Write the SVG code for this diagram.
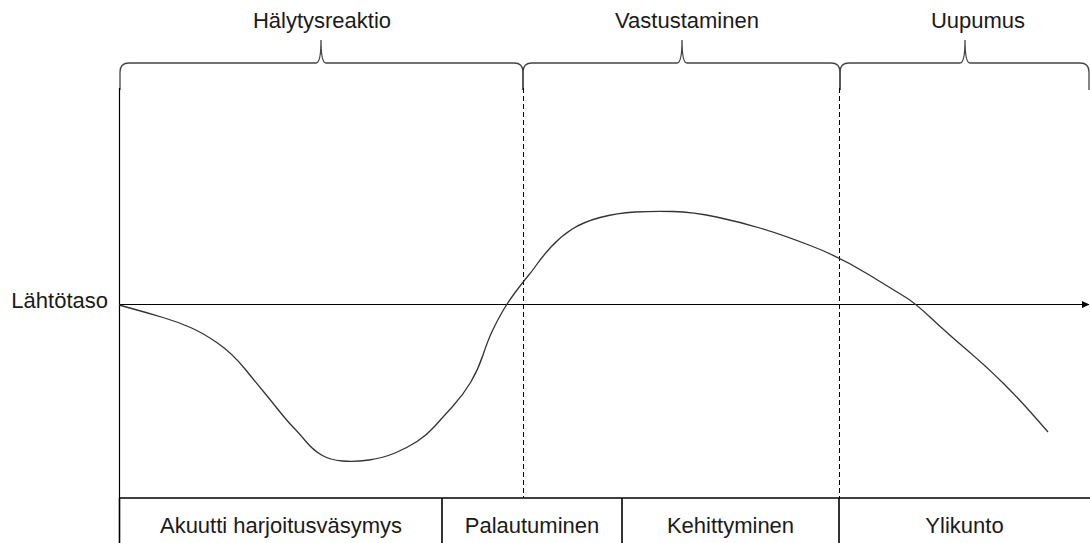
<svg xmlns="http://www.w3.org/2000/svg" width="1090" height="543" viewBox="0 0 1090 543">
<style>
text{font-family:"Liberation Sans",Arial,sans-serif;font-size:22px;fill:#1a1a1a}
.brace{fill:none;stroke:#444;stroke-width:1.3}
.axis{fill:none;stroke:#000;stroke-width:1.2}
.dash{fill:none;stroke:#000;stroke-width:1;stroke-dasharray:5,3}
.curve{fill:none;stroke:#333;stroke-width:1.3;stroke-linejoin:round}
.cell{fill:none;stroke:#000;stroke-width:1.6}
</style>
<defs>
<marker id="arr" markerWidth="8" markerHeight="8" refX="7" refY="4" orient="auto" markerUnits="userSpaceOnUse">
<path d="M0,0.5 L7.5,4 L0,7.5 Z" fill="#000"/>
</marker>
</defs>
<rect width="1090" height="543" fill="#fff"/>
<g id="phases">
<g id="halytysreaktio">
<path class="brace" d="M120,90 L120,72 Q120,63 129,63 L316,63 Q321,63 321,40 Q321,63 326,63 L514,63 Q523,63 523,72 L523,90"/>
<text x="322" y="27.5" text-anchor="middle">Hälytysreaktio</text>
</g>
<g id="vastustaminen">
<path class="brace" d="M523,90 L523,72 Q523,63 532,63 L677,63 Q682,63 682,40 Q682,63 687,63 L831,63 Q840,63 840,72 L840,90"/>
<text x="687" y="27.5" text-anchor="middle">Vastustaminen</text>
</g>
<g id="uupumus">
<path class="brace" d="M840,90 L840,72 Q840,63 849,63 L960,63 Q965,63 965,40 Q965,63 970,63 L1080,63 Q1089,63 1089,72 L1089,90"/>
<text x="978" y="27.5" text-anchor="middle">Uupumus</text>
</g>
</g>
<g id="connectors">
<line class="axis" x1="119.5" y1="88" x2="119.5" y2="498"/>
<line class="axis" x1="119.5" y1="304.5" x2="1089" y2="304.5" marker-end="url(#arr)"/>
<line class="dash" x1="523.5" y1="88" x2="523.5" y2="498"/>
<line class="dash" x1="839.5" y1="88" x2="839.5" y2="498"/>
<path class="curve" d="M119,305 L133.5,309 Q148,313 163,317.5 Q178,322 190.5,327.5 Q203,333 217.5,343 Q232,353 245,369 Q258,385 263,391 Q268,397 278,409.5 Q288,422 293,427 Q298,432 305.5,441 Q313,450 321.5,455 Q330,460 342.5,461 Q355,462 369,460 Q383,458 395,453 Q407,448 417,441.5 Q427,435 435,426 Q443,417 453,406 Q463,395 470.5,382.5 Q478,370 483,355 Q488,340 492.5,330.5 Q497,321 502.5,311.5 Q508,302 515.5,292 Q523,282 528,276 Q533,270 537.5,263.5 Q542,257 551,247 Q560,237 571.5,229.5 Q583,222 600,217.5 Q617,213 635,212 Q653,211 673,211.5 Q693,212 716.5,217 Q740,222 761.5,228.5 Q783,235 811.5,246 Q840,257 868.5,274.5 Q897,292 906,297.5 Q915,303 931,318 Q947,333 967,350 Q987,367 1003.5,383.5 Q1020,400 1034,416 L1048,432"/>
</g>
<g id="baseline-label">
<text x="108" y="308" text-anchor="end">Lähtötaso</text>
</g>
<g id="stages">
<line class="cell" x1="119" y1="498" x2="1090" y2="498"/>
<line class="cell" x1="119.5" y1="498" x2="119.5" y2="543"/>
<line class="cell" x1="442" y1="498" x2="442" y2="543"/>
<line class="cell" x1="622" y1="498" x2="622" y2="543"/>
<line class="cell" x1="839" y1="498" x2="839" y2="543"/>
<g id="akuutti"><text x="281" y="533" text-anchor="middle">Akuutti harjoitusväsymys</text></g>
<g id="palautuminen"><text x="532" y="533" text-anchor="middle">Palautuminen</text></g>
<g id="kehittyminen"><text x="730.5" y="533" text-anchor="middle">Kehittyminen</text></g>
<g id="ylikunto"><text x="964.5" y="533" text-anchor="middle">Ylikunto</text></g>
</g>
</svg>
